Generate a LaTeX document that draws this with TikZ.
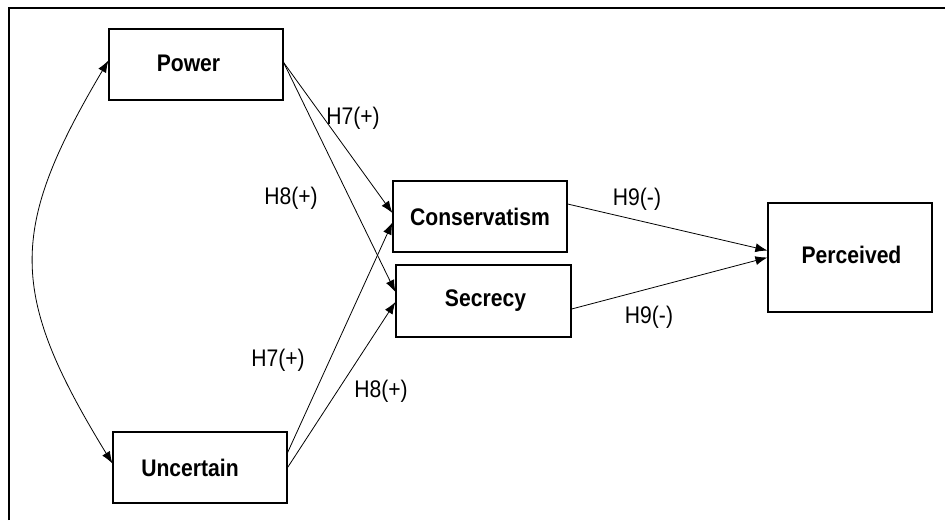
\documentclass[tikz,border=0pt]{standalone}
\usepackage{fontspec}
\setmainfont{Liberation Sans}[FakeStretch=0.88]
\usetikzlibrary{arrows.meta,calc}
\begin{document}
\begin{tikzpicture}[x=1pt,y=-1pt,
  box/.style={draw, line width=1.2pt, inner sep=0pt, font=\fontsize{24}{28}\selectfont\bfseries},
  lbl/.style={inner sep=0pt, font=\fontsize{24}{28}\selectfont},
  arr/.style={line width=0.8pt, -{Latex[length=12pt,width=9pt]}},
  darr/.style={line width=0.8pt, {Latex[length=12pt,width=9pt]}-{Latex[length=12pt,width=9pt]}}]
\useasboundingbox (0,0) rectangle (945,520);
\fill[white] (0,0) rectangle (945,520);
% frame (top and left sides visible)
\draw[line width=2.5pt] (9,520) -- (9,8) -- (946,8);
% boxes
\node[box, minimum width=174pt, minimum height=71pt] (P) at (196,64.5) {\raisebox{2pt}{Power}\hspace*{15pt}};
\node[box, minimum width=174pt, minimum height=71pt] (C) at (480,216.5) {Conservatism};
\node[box, minimum width=175pt, minimum height=72pt] (S) at (483.5,301) {\hspace*{4pt}\raisebox{3pt}{Secrecy}};
\node[box, minimum width=164pt, minimum height=109pt] (R) at (850,257.5) {\hspace*{3pt}\raisebox{5pt}{Perceived}};
\node[box, minimum width=174pt, minimum height=71pt] (U) at (200,467.5) {Uncertain\hspace*{20pt}};
% arrows
\draw[arr] ($(P.east)+(0,-2)$) -- ($(C.west)+(0,-3.5)$);
\draw[arr] ($(P.east)+(0,-2)$) -- ($(S.west)+(0,-9)$);
\draw[arr] ($(U.east)+(0,-15)$) -- ($(C.west)+(0,6)$);
\draw[arr] (U.east) -- ($(S.west)+(0,1)$);
\draw[arr] ($(C.east)+(0,-12.5)$) -- ($(R.west)+(0,-7)$);
\draw[arr] ($(S.east)+(0,8)$) -- ($(R.west)+(0,0)$);
\draw[darr] ($(P.west)+(0,-4)$) .. controls (8,230) and (8,293) .. ($(U.west)+(0,-4)$);
% labels
\node[lbl] (l1) at (353,118) {H7(+)};
\node[lbl] (l2) at (291,198) {H8(+)};
\node[lbl] (l3) at (637,199) {H9(-)};
\node[lbl] (l4) at (649,317) {H9(-)};
\node[lbl] (l5) at (278,360) {H7(+)};
\node[lbl] (l6) at (381,391) {H8(+)};
\end{tikzpicture}
\end{document}
